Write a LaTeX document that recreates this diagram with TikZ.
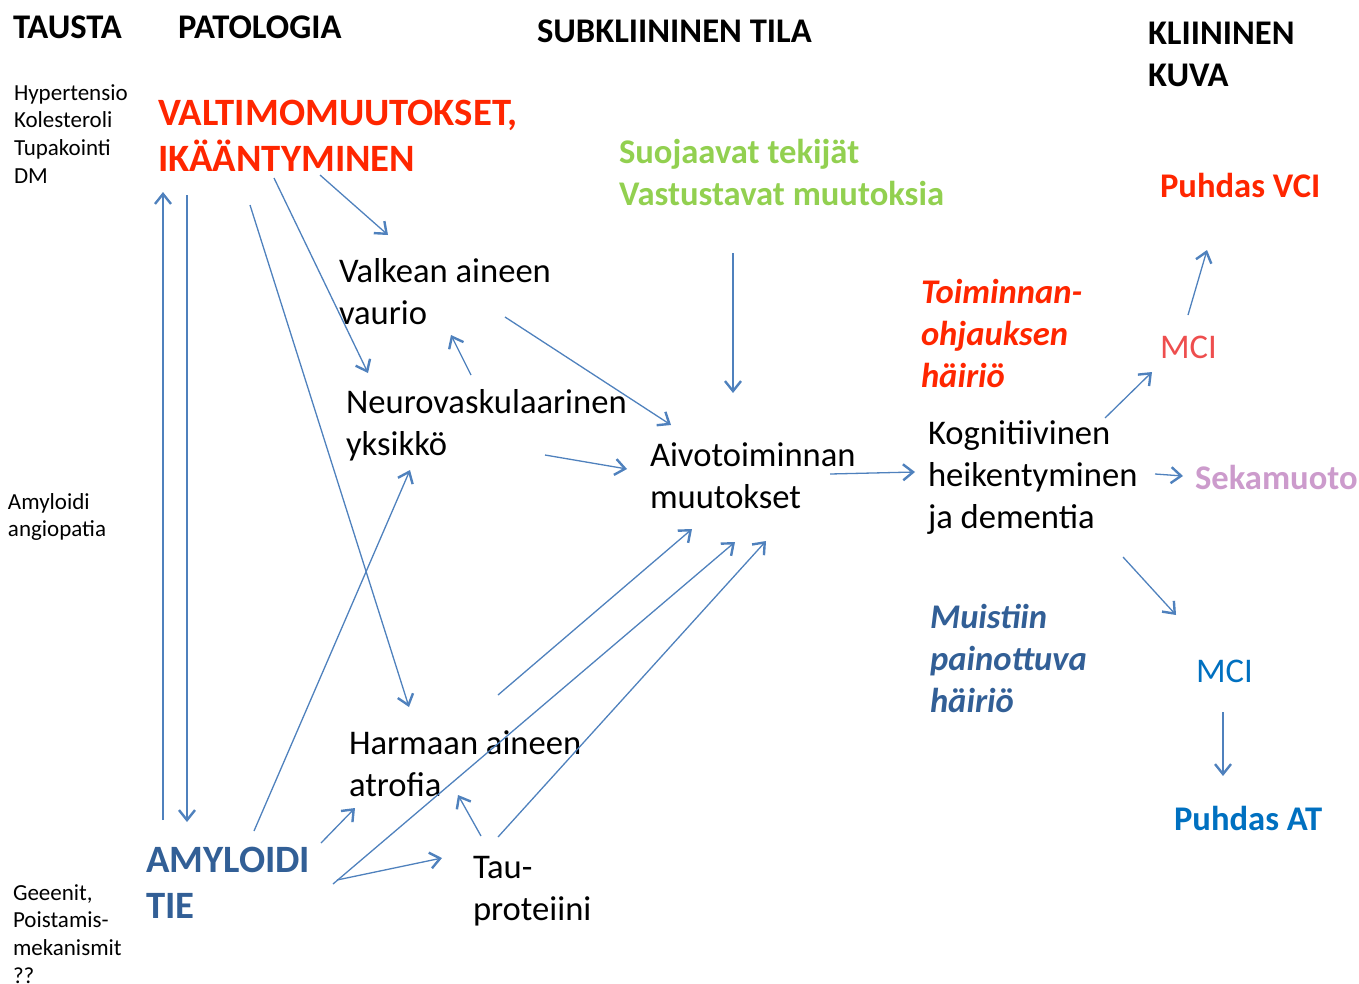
\documentclass[tikz,border=0pt]{standalone}
\usepackage{fontspec}
\setmainfont{Carlito}
\usetikzlibrary{arrows.meta}
\definecolor{arrowblue}{RGB}{79,129,189}
\definecolor{vred}{RGB}{255,38,0}
\definecolor{mcired}{RGB}{238,78,78}
\definecolor{sgreen}{RGB}{146,208,80}
\definecolor{spink}{RGB}{204,155,204}
\definecolor{atblue}{RGB}{0,112,192}
\definecolor{darkblue}{RGB}{50,95,150}
\newcommand\mlines[1]{\vtop{\halign{##\hfil\cr#1\crcr}}}
\begin{document}
\begin{tikzpicture}[x=1pt,y=-1pt,
  txt/.style={anchor=base west, inner sep=0pt, outer sep=0pt},
  body/.style={txt, font=\fontsize{34.6}{42}\selectfont},
  bodyb/.style={txt, font=\fontsize{34.6}{42}\selectfont\bfseries},
  bodybi/.style={txt, font=\fontsize{34.6}{42}\selectfont\bfseries\itshape},
  head/.style={txt, font=\fontsize{34.6}{42}\selectfont\bfseries},
  bigb/.style={txt, font=\fontsize{38.7}{46.5}\selectfont\bfseries},
  small/.style={txt, font=\fontsize{23}{27.7}\selectfont},
  arr/.style={draw=arrowblue, line width=1.3pt,
    -{Straight Barb[length=10pt,width=16pt,line width=2.4pt]}}]
\useasboundingbox (0,0) rectangle (1359,983);

% headers
\node[head] (tausta) at (13,38) {TAUSTA};
\node[head] (patologia) at (178,38) {PATOLOGIA};
\node[head] (subkl) at (537,42) {SUBKLIININEN TILA};
\node[head] (kliin) at (1148,44) {\mlines{KLIININEN\cr KUVA}};

% left column
\node[small] (riski) at (14,100) {\mlines{Hypertensio\cr Kolesteroli\cr Tupakointi\cr DM}};
\node[small] (angio) at (8,509) {\mlines{Amyloidi\cr angiopatia}};
\node[small] (geenit) at (13,900) {\mlines{Geeenit,\cr Poistamis-\cr mekanismit\cr ??}};

% pathology
\node[bigb, text=vred] (valt) at (158,125) {\mlines{VALTIMOMUUTOKSET,\cr IKÄÄNTYMINEN}};
\node[bigb, text=darkblue] (amy) at (146,872) {\mlines{AMYLOIDI\cr TIE}};
\node[body] (valk) at (339,282) {\mlines{Valkean aineen\cr vaurio}};
\node[body] (neuro) at (346,413) {\mlines{Neurovaskulaarinen\cr yksikkö}};
\node[body] (harm) at (349,754) {\mlines{Harmaan aineen\cr atrofia}};
\node[body] (tau) at (473,878) {\mlines{Tau-\cr proteiini}};

% subclinical
\node[bodyb, text=sgreen] (suoj) at (619,163) {\mlines{Suojaavat tekijät\cr Vastustavat muutoksia}};
\node[body] (aivo) at (650,466) {\mlines{Aivotoiminnan\cr muutokset}};
\node[bodybi, text=vred] (toim) at (921,303) {\mlines{Toiminnan-\cr ohjauksen\cr häiriö}};
\node[body] (kogn) at (928,444) {\mlines{Kognitiivinen\cr heikentyminen\cr ja dementia}};
\node[bodybi, text=darkblue] (muist) at (930,628) {\mlines{Muistiin\cr painottuva\cr häiriö}};

% clinical
\node[bodyb, text=vred] (vci) at (1160,197) {Puhdas VCI};
\node[body, text=mcired] (mcia) at (1160,358) {MCI};
\node[bodyb, text=spink] (seka) at (1195,489) {Sekamuoto};
\node[body, text=atblue] (mcib) at (1196,682) {MCI};
\node[bodyb, text=atblue] (at) at (1174,830) {Puhdas AT};

% connector end points
\coordinate (amyUp) at (163,820);   \coordinate (valtIn) at (163,192);
\coordinate (valtDn) at (187,195);  \coordinate (amyIn) at (187,822);
\coordinate (valtA) at (320,175);   \coordinate (valkIn) at (388,235);
\coordinate (valtB) at (274,178);   \coordinate (neuroIn) at (368,373);
\coordinate (valtC) at (250,205);   \coordinate (harmIn) at (409,707);
\coordinate (neuroOut) at (471,375); \coordinate (valkIn2) at (451,335);
\coordinate (valkOut) at (505,317); \coordinate (aivoInA) at (671,425);
\coordinate (neuroOut2) at (545,455); \coordinate (aivoInB) at (627,469);
\coordinate (suojOut) at (733,253); \coordinate (aivoInC) at (733,393);
\coordinate (aivoOut) at (830,474); \coordinate (kognIn) at (915,472);
\coordinate (amyA) at (254,831);    \coordinate (neuroIn2) at (410,470);
\coordinate (amyB) at (321,843);    \coordinate (harmIn2) at (355,808);
\coordinate (amyC) at (337,880);    \coordinate (tauIn) at (442,858);
\coordinate (amyD) at (333,884);    \coordinate (aivoInD) at (735,542);
\coordinate (harmOut) at (498,695); \coordinate (aivoInE) at (692,529);
\coordinate (tauOut) at (498,837);  \coordinate (aivoInF) at (766,541);
\coordinate (tauOut2) at (481,836); \coordinate (harmIn3) at (458,795);
\coordinate (kognA) at (1105,418);  \coordinate (mciaIn) at (1152,372);
\coordinate (mciaOut) at (1188,315); \coordinate (vciIn) at (1207,250);
\coordinate (kognB) at (1155,474);  \coordinate (sekaIn) at (1183,476);
\coordinate (kognC) at (1123,557);  \coordinate (mcibIn) at (1176,615);
\coordinate (mcibOut) at (1223,712); \coordinate (atIn) at (1223,776);

\draw[arr] (amyUp) -- (valtIn);
\draw[arr] (valtDn) -- (amyIn);
\draw[arr] (valtA) -- (valkIn);
\draw[arr] (valtB) -- (neuroIn);
\draw[arr] (valtC) -- (harmIn);
\draw[arr] (neuroOut) -- (valkIn2);
\draw[arr] (valkOut) -- (aivoInA);
\draw[arr] (neuroOut2) -- (aivoInB);
\draw[arr] (suojOut) -- (aivoInC);
\draw[arr] (aivoOut) -- (kognIn);
\draw[arr] (amyA) -- (neuroIn2);
\draw[arr] (amyB) -- (harmIn2);
\draw[arr] (amyC) -- (tauIn);
\draw[arr] (amyD) -- (aivoInD);
\draw[arr] (harmOut) -- (aivoInE);
\draw[arr] (tauOut) -- (aivoInF);
\draw[arr] (tauOut2) -- (harmIn3);
\draw[arr] (kognA) -- (mciaIn);
\draw[arr] (mciaOut) -- (vciIn);
\draw[arr] (kognB) -- (sekaIn);
\draw[arr] (kognC) -- (mcibIn);
\draw[arr] (mcibOut) -- (atIn);
\end{tikzpicture}
\end{document}
